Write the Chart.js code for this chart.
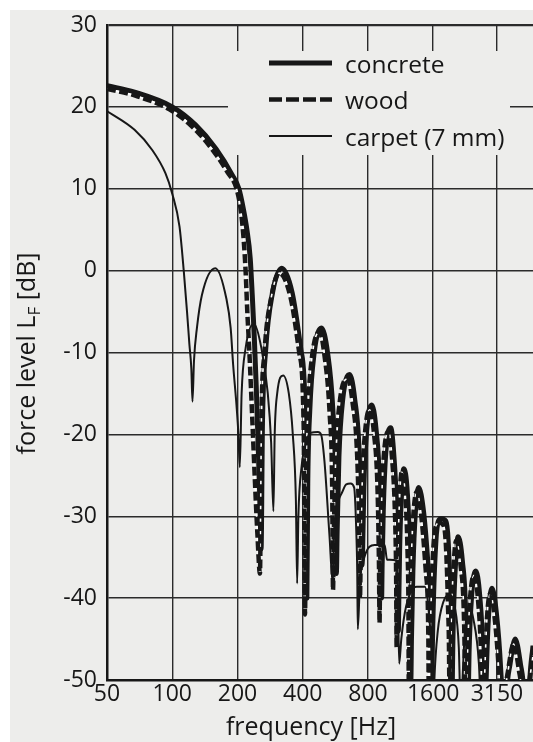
<!DOCTYPE html>
<html>
<head>
<meta charset="utf-8">
<title>force level LF</title>
<script src="https://cdn.jsdelivr.net/npm/chart.js@4.4.1/dist/chart.umd.min.js"></script>
<style>
    html, body { margin: 0; padding: 0; background: #ffffff; }
    #chartBox { width: 533px; height: 742px; }
    canvas { display: block; }
</style>
</head>
<body>
<div id="chartBox"><canvas id="forceChart" width="533" height="742"></canvas></div>
<script>
//AXES
const freqTicks = [50, 100, 200, 400, 800, 1600, 3150];
const freqTickLabels = ['50', '100', '200', '400', '800', '1600', '3150'];
const freqMin = 50;
const freqMax = 4620;
const levelMin = -50;
const levelMax = 30;
const levelStep = 10;

//SERIES NAMES
const seriesNames = ['concrete', 'wood', 'carpet (7 mm)'];

//CONCRETE (THICK SOLID)
const concreteFreq = [50, 67, 100, 128, 159, 189, 203, 213, 221, 229, 234, 239, 244, 249, 253, 257,
    260.8, 269.8, 290.2, 320, 357.6, 392.4, 412, 418,
    422, 431.3, 452, 488, 520.6, 550.9, 566.7, 572,
    576.7, 587.7, 612, 658, 695, 730, 744, 750,
    754.7, 765.9, 790, 832, 872, 905.7, 919, 925,
    930, 941.6, 967, 1019, 1051, 1085, 1099, 1105,
    1109.4, 1119.7, 1143, 1171, 1216, 1245.5, 1257, 1262,
    1270, 1290, 1324, 1370, 1445, 1519, 1560.6, 1570,
    1580, 1604, 1647, 1690, 1743, 1830, 1876, 1917, 1942, 1950,
    1959.7, 1982.5, 2032, 2084, 2182, 2262, 2288, 2300,
    2312.6, 2342, 2407, 2514, 2623, 2710, 2746, 2760,
    2776.8, 2816.6, 2886, 2987, 3130, 3279, 3360, 3380,
    3422, 3482, 3623, 3825, 4040, 4203, 4277, 4330,
    4360, 4450, 4620];
const concreteLevel = [22.6, 21.8, 20.0, 17.8, 14.9, 11.7, 10.0, 7.5, 5.0, 1.5, -3, -8, -14, -21, -27, -34,
    -18.7, -9.7, -2.7, 0.3, -2.7, -9.7, -18.7, -40,
    -26, -17, -10, -7, -10, -17, -26, -37,
    -31.7, -22.7, -15.7, -12.7, -15.7, -22.7, -31.7, -36,
    -35, -26.4, -19.4, -16.4, -19.4, -26.4, -35, -40,
    -36, -29.2, -22.2, -19.2, -22.2, -29.2, -36, -44,
    -41, -34.2, -27.2, -24.2, -27.2, -34.2, -41, -50,
    -45, -36.5, -29.5, -26.5, -29.5, -36.5, -45, -58,
    -49, -40.3, -33, -30.6, -30.3, -30.6, -33, -40.3, -49, -60,
    -51, -42.5, -35.5, -32.5, -35.5, -42.5, -51, -60,
    -55, -46.7, -39.7, -36.7, -39.7, -46.7, -55, -62,
    -56, -48.8, -41.8, -38.8, -41.8, -48.8, -56, -62,
    -58, -52, -48, -45, -48, -52, -58, -64,
    -60, -51, -45.8];

//WOOD (THICK DASHED)
const woodFreq = [50, 67, 100, 128, 159, 180, 198, 208, 214, 218, 222, 227, 234, 241, 247, 254,
    257.7, 266.5, 286.3, 312, 351.7, 385.3, 404.1, 410,
    413.7, 422.4, 441.7, 478, 504.9, 532.6, 547.1, 552,
    556.8, 568, 593, 645, 678.4, 714.3, 728.7, 735,
    739.6, 750.4, 774.2, 815, 853.8, 886.4, 899.4, 905,
    909.9, 921.6, 947, 1000, 1031, 1065.5, 1079, 1085,
    1089.2, 1099, 1120.7, 1145, 1191, 1219, 1230, 1235,
    1243, 1261.7, 1294.6, 1345, 1410.4, 1481.7, 1520, 1530,
    1540, 1563.9, 1605.5, 1650, 1705, 1785, 1831, 1871.7, 1896.6, 1905,
    1914.8, 1937.8, 1988, 2040, 2140, 2221.7, 2248.5, 2260,
    2272.4, 2301.5, 2365, 2470, 2575.6, 2661, 2695.5, 2710,
    2726.6, 2765.6, 2833.9, 2940, 3073.6, 3220.5, 3299.8, 3320,
    3361, 3420, 3558, 3760, 3966, 4126, 4198, 4250,
    4280, 4400, 4620];
const woodLevel = [22.2, 21.4, 19.5, 17.2, 14.2, 12.0, 10.0, 7.0, 3.5, 0, -5, -10, -18, -26, -32, -37,
    -19, -10, -3.3, -0.3, -3.3, -10, -19, -42,
    -26.5, -17.5, -10.5, -7.5, -10.5, -17.5, -26.5, -39,
    -32, -23, -16, -13.2, -16, -23, -32, -40,
    -36, -27, -20, -17, -20, -27, -36, -43,
    -37, -29.6, -22.6, -19.6, -22.6, -29.6, -37, -46,
    -41, -34.6, -27.6, -24.6, -27.6, -34.6, -41, -52,
    -45, -37, -30, -27, -30, -37, -45, -60,
    -49, -40.8, -33.5, -31.1, -30.8, -31.1, -33.5, -40.8, -49, -60,
    -52, -43, -36, -33, -36, -43, -52, -60,
    -55, -47.2, -40.2, -37.2, -40.2, -47.2, -55, -62,
    -56, -49.4, -42.4, -39.4, -42.4, -49.4, -56, -62,
    -58, -52.6, -48.6, -45.6, -48.6, -52.6, -58, -64,
    -60, -52, -47];

//CARPET 7 MM (THIN SOLID)
const carpetFreq = [50, 67, 81, 93, 100, 108, 113, 117, 120, 122.5, 124,
    126, 130, 137, 158, 178, 186, 191, 198, 202, 205,
    209, 218, 238, 258, 276, 286, 293,
    297, 305, 325, 345, 360, 372, 377,
    382, 395, 415, 436, 470, 486, 504, 531, 551,
    556, 575, 610, 635, 665, 691, 705, 714, 718,
    735, 770, 858, 955, 980, 1081, 1100, 1115,
    1140, 1200, 1341, 1466, 1530, 1580, 1600,
    1620, 1680, 1780, 1903, 2010, 2100, 2150,
    2170, 2230, 2343, 2450, 2600, 2700, 4620];
const carpetLevel = [19.5, 17.2, 14.7, 11.9, 9.4, 5.4, 0, -5, -9, -12, -16,
    -11, -7, -3, 0.3, -3.5, -7, -11.5, -16.5, -20, -24,
    -15, -9.5, -6.5, -9.5, -15, -21, -29.4,
    -20, -15, -12.8, -15, -20, -28, -38.2,
    -30, -24, -21, -19.8, -19.7, -20, -23.3, -32.2, -38.2,
    -33, -29, -27, -26.1, -26, -26.5, -31, -37, -43.8,
    -38, -35, -33.5, -33.5, -35.3, -35.4, -40, -48,
    -45, -41, -38.6, -38.6, -42, -48, -55,
    -50, -44, -40.5, -39.6, -41, -46, -55,
    -52, -45, -41, -42.5, -48, -58, -70];


//COLORS AND FONTS
const inkColor = '#171717';
const gridColor = '#2b2b2b';
const paperColor = '#ededeb';
const fontFamily = "'Open Sans', 'DejaVu Sans', sans-serif";


//BUILD POINTS FROM ARRAYS
const toPoints = (freqs, levels) => freqs.map((f, i) => ({ x: f, y: levels[i] }));

const lineBase = {
    pointRadius: 0,
    pointHoverRadius: 0,
    fill: false,
    cubicInterpolationMode: 'monotone',
    borderJoinStyle: 'round',
    clip: 0
};


//PAPER BACKGROUND (SCAN HAS A WHITE MARGIN TOP AND LEFT)
const paperPlugin = {
    id: 'paper',
    beforeDraw: (chart) => {
        const ctx = chart.ctx;
        ctx.save();
        ctx.fillStyle = paperColor;
        ctx.fillRect(10, 10, chart.width - 10, chart.height - 10);
        ctx.restore();
    }
};


//LEGEND BOX INSIDE THE PLOT
const boxLegendPlugin = {
    id: 'boxLegend',
    beforeDatasetsDraw: (chart) => {
        const ctx = chart.ctx;
        const area = chart.chartArea;
        const boxX = area.left + 121;
        const boxY = area.top + 26;
        const lineX1 = area.left + 162;
        const lineX2 = area.left + 225;
        const textX = area.left + 238;
        const rows = [area.top + 38, area.top + 74.5, area.top + 111];
        const styles = [
            { width: 5, dash: [] },
            { width: 4.5, dash: [13, 4] },
            { width: 2, dash: [] }
        ];

        ctx.save();
        ctx.fillStyle = paperColor;
        ctx.fillRect(boxX, boxY, 282, 104);

        ctx.strokeStyle = inkColor;
        ctx.lineCap = 'butt';
        for (let i = 0; i < seriesNames.length; i++) {
            ctx.lineWidth = styles[i].width;
            ctx.setLineDash(styles[i].dash);
            ctx.beginPath();
            ctx.moveTo(lineX1, rows[i]);
            ctx.lineTo(lineX2, rows[i]);
            ctx.stroke();
        }
        ctx.setLineDash([]);
        ctx.fillStyle = inkColor;
        ctx.font = '24.5px ' + fontFamily;
        ctx.textAlign = 'left';
        ctx.textBaseline = 'alphabetic';
        for (let i = 0; i < seriesNames.length; i++) {
            ctx.fillText(seriesNames[i], textX, rows[i] + 9.5);
        }
        ctx.restore();
    }
};


//AXIS TITLES (Y TITLE HAS A SUBSCRIPT F)
const axisTitlePlugin = {
    id: 'axisTitles',
    afterDraw: (chart) => {
        const ctx = chart.ctx;
        const area = chart.chartArea;
        const bigFont = '25px ' + fontFamily;
        const smallFont = '17px ' + fontFamily;

        ctx.save();
        ctx.fillStyle = inkColor;
        ctx.textBaseline = 'alphabetic';

        ctx.font = bigFont;
        ctx.textAlign = 'center';
        ctx.fillText('frequency [Hz]', area.left + 204, 735);

        ctx.translate(35, (area.top + area.bottom) / 2 + 1);
        ctx.rotate(-Math.PI / 2);
        ctx.textAlign = 'left';
        const parts = [
            { text: 'force level L', font: bigFont, dy: 0 },
            { text: 'F', font: smallFont, dy: 5 },
            { text: ' [dB]', font: bigFont, dy: 0 }
        ];
        let total = 0;
        for (let i = 0; i < parts.length; i++) {
            ctx.font = parts[i].font;
            parts[i].w = ctx.measureText(parts[i].text).width;
            total += parts[i].w;
        }
        let x = -total / 2;
        for (let i = 0; i < parts.length; i++) {
            ctx.font = parts[i].font;
            ctx.fillText(parts[i].text, x, parts[i].dy);
            x += parts[i].w;
        }
        ctx.restore();
    }
};


//CHART
const ctx = document.getElementById('forceChart');

new Chart(ctx, {
    type: 'line',
    data: {
        datasets: [
            Object.assign({}, lineBase, {
                label: seriesNames[0],
                data: toPoints(concreteFreq, concreteLevel),
                borderColor: inkColor,
                borderWidth: 5,
                order: 4
            }),
            Object.assign({}, lineBase, {
                label: seriesNames[1] + ' gaps',
                data: toPoints(woodFreq, woodLevel),
                borderColor: '#ffffff',
                borderWidth: 1.6,
                order: 3
            }),
            Object.assign({}, lineBase, {
                label: seriesNames[1],
                data: toPoints(woodFreq, woodLevel),
                borderColor: inkColor,
                borderWidth: 4.5,
                borderDash: [9, 3.5],
                order: 2
            }),
            Object.assign({}, lineBase, {
                label: seriesNames[2],
                data: toPoints(carpetFreq, carpetLevel),
                borderColor: inkColor,
                borderWidth: 2,
                order: 1
            })
        ]
    },
    options: {
        responsive: false,
        animation: false,
        events: [],
        layout: {
            padding: { left: 0, right: 0, top: 25, bottom: 0 }
        },
        plugins: {
            legend: { display: false },
            tooltip: { enabled: false },
            title: { display: false }
        },
        scales: {
            x: {
                type: 'logarithmic',
                min: freqMin,
                max: freqMax,
                afterBuildTicks: (scale) => {
                    scale.ticks = freqTicks.map(v => ({ value: v }));
                },
                afterFit: (scale) => {
                    scale.height = 62;
                },
                ticks: {
                    autoSkip: false,
                    maxRotation: 0,
                    padding: 1,
                    color: inkColor,
                    font: { family: fontFamily, size: 23 },
                    callback: (value, index) => freqTickLabels[index]
                },
                grid: {
                    color: gridColor,
                    lineWidth: 1.4,
                    drawTicks: false
                },
                border: {
                    display: true,
                    color: inkColor,
                    width: 2.5
                }
            },
            y: {
                min: levelMin,
                max: levelMax,
                afterFit: (scale) => {
                    scale.width = 107;
                },
                ticks: {
                    stepSize: levelStep,
                    padding: 10,
                    color: inkColor,
                    font: { family: fontFamily, size: 23 }
                },
                grid: {
                    color: gridColor,
                    lineWidth: (c) => (c.tick && c.tick.value === levelMax ? 2.2 : 1.4),
                    drawTicks: false
                },
                border: {
                    display: true,
                    color: inkColor,
                    width: 2.5
                }
            }
        }
    },
    plugins: [paperPlugin, boxLegendPlugin, axisTitlePlugin]
});
</script>
</body>
</html>
